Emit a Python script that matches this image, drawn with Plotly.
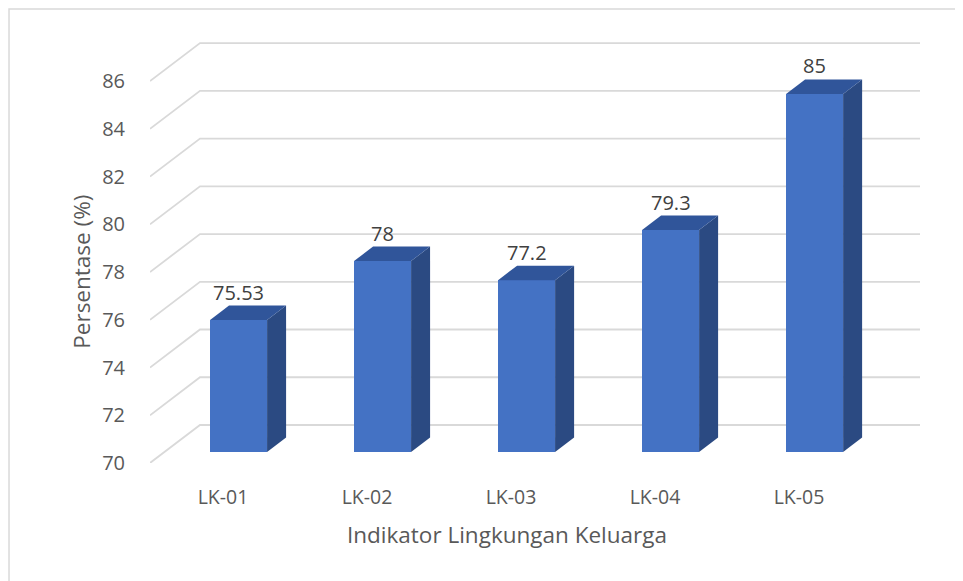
import plotly.graph_objects as go

# data
categories = ['LK-01', 'LK-02', 'LK-03', 'LK-04', 'LK-05']
persentase = [75.53, 78, 77.2, 79.3, 85]
y_ticks = [70, 72, 74, 76, 78, 80, 82, 84, 86]

# fake 3d geometry (axis units)
X_MIN, X_MAX = -0.507, 4.840
Y_MIN, Y_MAX = 70, 87.72
DX, DY = 0.3472, 1.5916        # depth of the floor / wall
BAR_OFF, BAR_W = 0.108, 0.396  # front face of a bar
BASE_OFF = 0.46                # bar sits a bit back from the front edge
BDX, BDY = 0.132, 0.607        # depth of a bar

FRONT = '#4472C4'
TOP = '#30559A'
SIDE = '#2B4A82'
GRID = '#D9D9D9'
TXT = '#595959'
FONT = 'Open Sans'

fig = go.Figure()

# perspective gridlines (shapes so they stay behind the bars)
shapes = []
for v in y_ticks:
    path = f'M {X_MIN},{v} L {X_MIN + DX},{v + DY} L {X_MAX},{v + DY}'
    shapes.append(dict(type='path', path=path, xref='x', yref='y', layer='below',
                       line=dict(color=GRID, width=1.8)))

xs = [i + BAR_OFF for i in range(len(categories))]
base = Y_MIN + BASE_OFF

# front faces
fig.add_trace(go.Bar(x=xs, y=[v - Y_MIN for v in persentase], base=base, width=BAR_W,
                     marker=dict(color=FRONT, line=dict(width=0)), showlegend=False))

# side and top faces
for xc, v in zip(xs, persentase):
    x0, x1 = xc - BAR_W / 2, xc + BAR_W / 2
    yb, yt = base, v + BASE_OFF
    fig.add_trace(go.Scatter(x=[x1, x1 + BDX, x1 + BDX, x1, x1], y=[yb, yb + BDY, yt + BDY, yt, yb],
                             fill='toself', fillcolor=SIDE, mode='lines', line=dict(width=0),
                             hoverinfo='skip', showlegend=False))
    fig.add_trace(go.Scatter(x=[x0, x0 + BDX, x1 + BDX, x1, x0], y=[yt, yt + BDY, yt + BDY, yt, yt],
                             fill='toself', fillcolor=TOP, mode='lines', line=dict(width=0),
                             hoverinfo='skip', showlegend=False))
    fig.add_annotation(x=xc, y=yt + BDY, text=f'{v:g}', showarrow=False, yanchor='bottom', yshift=-2,
                       font=dict(family=FONT, size=20, color='#404040'))

# axis titles, centred on the whole chart like the original
fig.add_annotation(text='Indikator Lingkungan Keluarga', xref='paper', yref='paper', x=0.4636, y=-0.170,
                   xanchor='center', yanchor='middle', showarrow=False,
                   font=dict(family=FONT, size=22.5, color=TXT))
fig.add_annotation(text='Persentase (%)', xref='paper', yref='paper', x=-0.090, y=0.4515,
                   xanchor='center', yanchor='middle', textangle=-90, showarrow=False,
                   font=dict(family=FONT, size=22.5, color=TXT))

# chart border
shapes.append(dict(type='rect', xref='paper', yref='paper', x0=-0.1831, x1=1.2, y0=-0.5, y1=1.0733,
                   line=dict(color='#D9D9D9', width=1.5), fillcolor='rgba(0,0,0,0)', layer='below'))

fig.update_layout(
    width=963, height=581,
    margin=dict(l=142, r=51, t=32, b=126),
    paper_bgcolor='white', plot_bgcolor='white',
    font=dict(family=FONT, color=TXT),
    bargap=0,
    xaxis=dict(range=[X_MIN, X_MAX], tickvals=list(range(len(categories))), ticktext=categories,
               showgrid=False, zeroline=False, showline=False, automargin=False,
               ticks='outside', ticklen=17, tickcolor='rgba(0,0,0,0)', tickfont=dict(size=19.5, color=TXT)),
    yaxis=dict(range=[Y_MIN, Y_MAX], tickvals=y_ticks, showgrid=False, zeroline=False, showline=False,
               automargin=False,
               ticks='outside', ticklen=20, tickcolor='rgba(0,0,0,0)', tickfont=dict(size=20, color=TXT)),
    shapes=shapes,
)

fig.write_html('out.html')
